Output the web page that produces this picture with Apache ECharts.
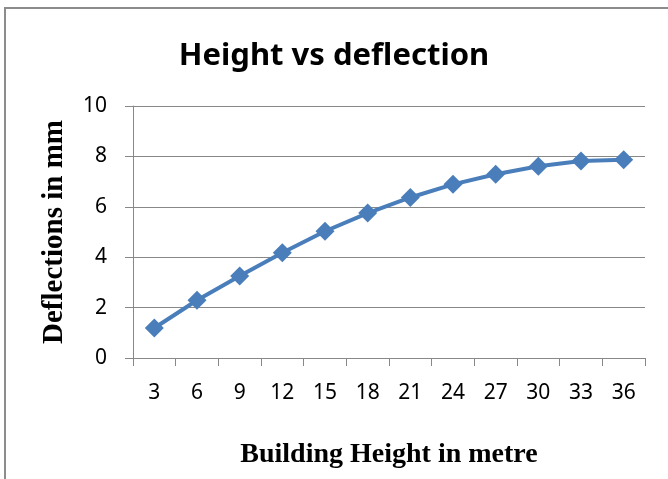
<!DOCTYPE html>
<html>
<head>
<meta charset="utf-8">
<script src="https://cdn.jsdelivr.net/npm/echarts@6/dist/echarts.min.js"></script>
<style>
  html, body { margin: 0; padding: 0; background: #fff; }
  #chart { width: 668px; height: 479px; }
</style>
</head>
<body>
<div id="chart"></div>
<script>
// building height (m) on x, deflection (mm) on y
const heights = ["3", "6", "9", "12", "15", "18", "21", "24", "27", "30", "33", "36"];
const deflections = [1.19, 2.29, 3.25, 4.18, 5.03, 5.75, 6.37, 6.89, 7.29, 7.61, 7.82, 7.87];

const chart = echarts.init(document.getElementById("chart"));
const gridColor = "#888888";

chart.setOption({
  animation: false,
  title: {
    text: "Height vs deflection",
    left: "center",
    top: 36,
    textStyle: {
      fontFamily: "Noto Sans",
      fontWeight: "bold",
      fontSize: 31,
      color: "#000"
    }
  },
  // outer chart frame like the original export
  graphic: [
    {
      type: "rect",
      shape: { x: 5, y: 8, width: 700, height: 520 },
      style: { fill: "none", stroke: "#8c8c8c", lineWidth: 2 }
    }
  ],
  grid: {
    left: 133,
    top: 106,
    right: 23,
    bottom: 121
  },
  xAxis: {
    type: "category",
    data: heights,
    boundaryGap: true,
    name: "Building Height in metre",
    nameLocation: "middle",
    nameGap: 83,
    nameTextStyle: {
      fontFamily: "Liberation Serif",
      fontWeight: "bold",
      fontSize: 28,
      color: "#000"
    },
    axisLine: { lineStyle: { color: gridColor, width: 1 } },
    axisTick: { show: true, length: 8, lineStyle: { color: gridColor } },
    axisLabel: {
      margin: 25,
      fontFamily: "Noto Sans",
      fontSize: 21,
      color: "#000"
    }
  },
  yAxis: {
    type: "value",
    min: 0,
    max: 10,
    interval: 2,
    name: "Deflections in mm",
    nameLocation: "middle",
    nameGap: 64,
    nameTextStyle: {
      fontFamily: "Liberation Serif",
      fontWeight: "bold",
      fontSize: 29,
      color: "#000"
    },
    axisLine: { show: true, lineStyle: { color: gridColor, width: 1 } },
    axisTick: { show: true, length: 8, lineStyle: { color: gridColor } },
    axisLabel: {
      margin: 26,
      fontFamily: "Noto Sans",
      fontSize: 21,
      color: "#000"
    },
    splitLine: { show: true, lineStyle: { color: gridColor, width: 1 } }
  },
  series: [
    {
      type: "line",
      data: deflections,
      symbol: "diamond",
      symbolSize: 19,
      lineStyle: { color: "#4a7ebb", width: 4 },
      itemStyle: { color: "#4a7ebb" }
    }
  ]
});
</script>
</body>
</html>
